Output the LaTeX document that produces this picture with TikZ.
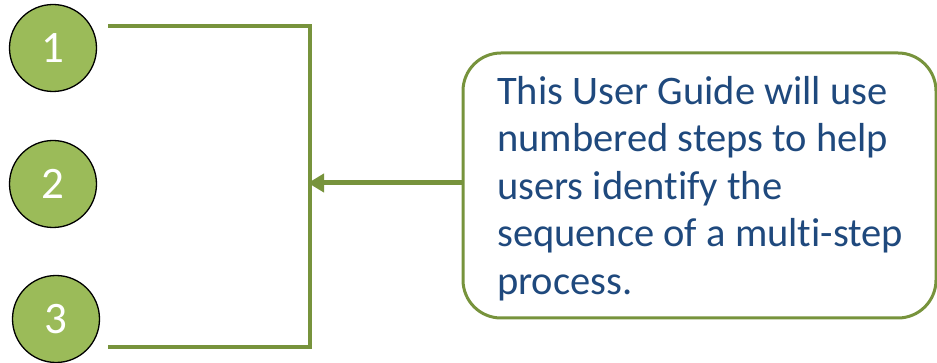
\documentclass[tikz,border=0pt]{standalone}
\usepackage{fontspec}
\setmainfont{Carlito}[Ligatures=NoCommon]
\usetikzlibrary{arrows.meta}
\definecolor{olivedark}{HTML}{77933C}
\definecolor{olivefill}{HTML}{9BBB59}
\definecolor{textblue}{HTML}{1F497D}
\begin{document}
\begin{tikzpicture}[x=1pt,y=-1pt,
  stepcircle/.style={circle,draw=black,line width=1.3pt,fill=olivefill,
    minimum size=87pt,inner sep=0pt,text=white,font=\fontsize{45}{45}\selectfont},
  bracketline/.style={draw=olivedark,line width=4pt},
  calloutbox/.style={draw=olivedark,line width=3pt,rounded corners=38pt,
    minimum width=473pt,minimum height=265pt,inner sep=0pt}]
\useasboundingbox (0,0) rectangle (937,363);
% numbered steps
\node[stepcircle] (s1) at (53,48) {1};
\node[stepcircle] (s2) at (53,184) {2};
\node[stepcircle] (s3) at (56,319) {3};
% bracket joining the steps
\coordinate (btl) at (108,26);
\coordinate (btr) at (310,26);
\coordinate (bbr) at (310,347);
\coordinate (bbl) at (108,347);
\draw[bracketline] (btl) -- (btr) -- (bbr) -- (bbl);
% callout box and its text
\node[calloutbox] (box) at (699.5,185.5) {};
\node[anchor=north west,align=left,inner sep=0pt,text=textblue,
  font=\fontsize{40.5}{47.5}\selectfont] (txt) at (497,76)
  {This User Guide will use\\numbered steps to help\\users identify the\\sequence of a multi-step\\process.};
% arrow from the box to the bracket
\coordinate (astart) at (box.west |- 0,183);
\coordinate (aend) at (308,183);
\draw[draw=olivedark,fill=olivedark,line width=5pt,
  -{Triangle[length=16pt,width=18pt]}] (astart) -- (aend);
\end{tikzpicture}
\end{document}
